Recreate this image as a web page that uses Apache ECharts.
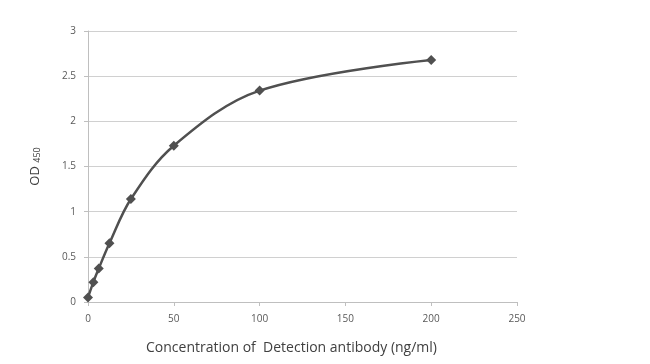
<!DOCTYPE html>
<html><head><meta charset="utf-8">
<script src="https://cdn.jsdelivr.net/npm/echarts@6/dist/echarts.min.js"></script>
<style>html,body{margin:0;padding:0;background:#fff}#c{width:650px;height:364px}</style>
</head><body><div id="c"></div>
<script>
const concentrations = [0, 3.125, 6.25, 12.5, 25, 50, 100, 200];
const odValues = [0.05, 0.22, 0.37, 0.65, 1.14, 1.73, 2.34, 2.68];
const xTicks = [0, 50, 100, 150, 200, 250];
const yTicks = [0, 0.5, 1, 1.5, 2, 2.5, 3];

const chart = echarts.init(document.getElementById('c'));
const txt = '#595959';
chart.setOption({
  animation: false,
  grid: {left: 88, right: 133, top: 31, bottom: 62},
  xAxis: {
    type: 'value', min: 0, max: 250, interval: 50,
    name: 'Concentration of  Detection antibody (ng/ml)',
    nameLocation: 'middle', nameGap: 39,
    nameTextStyle: {color: '#404040', fontSize: 14, fontFamily: 'Open Sans', padding: [0, 22, 0, 0]},
    axisLine: {lineStyle: {color: '#bfbfbf'}},
    axisTick: {show: true, length: 4, lineStyle: {color: '#bfbfbf'}},
    axisLabel: {color: txt, fontSize: 10, fontFamily: 'Open Sans', margin: 12},
    splitLine: {show: false}
  },
  yAxis: {
    type: 'value', min: 0, max: 3, interval: 0.5,
    name: '{a|OD }{b|450}',
    nameLocation: 'middle', nameGap: 46, nameRotate: 90,
    nameTextStyle: {rich: {
      a: {color: '#404040', fontSize: 13, fontFamily: 'Open Sans'},
      b: {color: '#404040', fontSize: 9, fontFamily: 'Open Sans', verticalAlign: 'bottom'}
    }},
    axisLine: {show: true, lineStyle: {color: '#bfbfbf'}},
    axisTick: {show: true, length: 4, lineStyle: {color: '#bfbfbf'}},
    axisLabel: {color: txt, fontSize: 10, fontFamily: 'Open Sans', margin: 12},
    splitLine: {lineStyle: {color: '#d0d0d0'}}
  },
  series: [{
    type: 'line',
    data: concentrations.map((x, i) => [x, odValues[i]]),
    smooth: 0.35,
    symbol: 'diamond', symbolSize: 10,
    lineStyle: {color: '#505050', width: 2.5},
    itemStyle: {color: '#505050'}
  }]
});
</script></body></html>
